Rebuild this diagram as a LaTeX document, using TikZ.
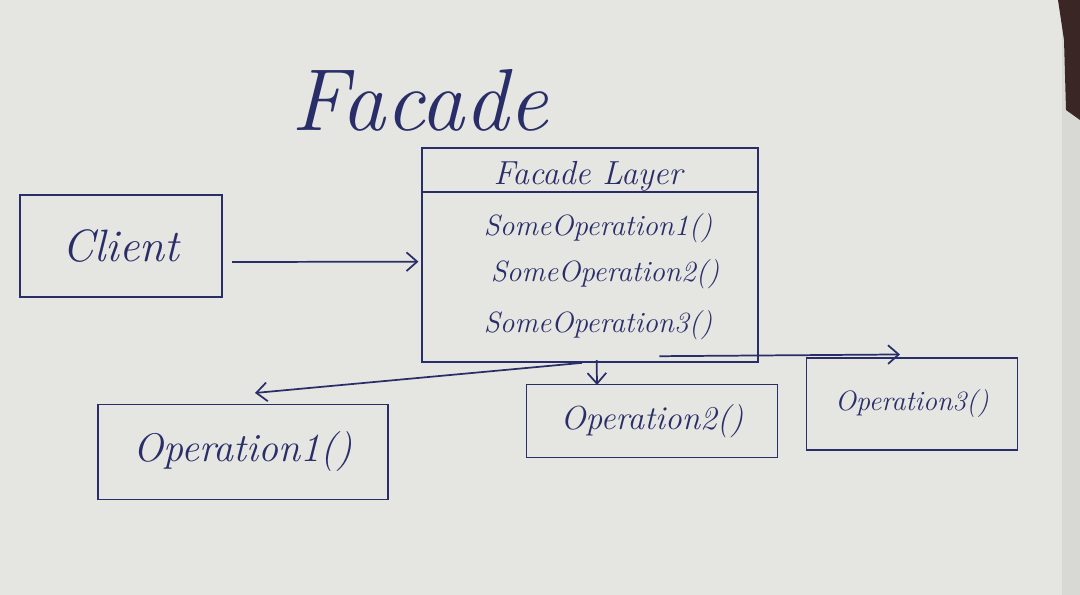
\documentclass[tikz,border=0pt]{standalone}
\usetikzlibrary{arrows.meta,calc}
\definecolor{paper}{RGB}{229,229,226}
\definecolor{paperedge}{RGB}{216,216,213}
\definecolor{cloth}{RGB}{58,38,36}
\definecolor{ink}{RGB}{42,46,104}
\begin{document}
\begin{tikzpicture}[x=0.75pt,y=-0.75pt,
  box/.style={draw=ink,line width=1.3pt,inner sep=0pt,text=ink},
  hand/.style={text=ink,inner sep=0pt},
  link/.style={draw=ink,line width=1.3pt,-{Straight Barb[length=8pt,width=14pt,line width=1.3pt]}}]
% sheet of paper on a dark cloth
\fill[paper] (0,0) rectangle (1080,595);
\fill[paperedge] (1062,0) rectangle (1080,595);
\fill[cloth] (1058,0) -- (1080,0) -- (1080,120) -- (1066,110) -- (1064,40) -- cycle;
\useasboundingbox (0,0) rectangle (1080,595);

% heading
\node[hand,font=\itshape\fontsize{66}{70}\selectfont] (title) at (420,100) {Facade};

% client
\node[box,minimum width=151.5pt,minimum height=76.5pt,
      font=\itshape\fontsize{34}{40}\selectfont] (client) at (121,246) {Client};

% facade layer class box
\node[box,minimum width=252pt,minimum height=160.5pt] (facade) at (590,255) {};
\draw[ink,line width=1.3pt] ($(facade.north west)+(0,45)$) -- ($(facade.north east)+(0,45)$);
\node[hand,font=\itshape\fontsize{25}{30}\selectfont] (hdr) at (588,176) {Facade Layer};
\node[hand,font=\itshape\fontsize{22}{26}\selectfont] (s1) at (598,228) {SomeOperation1()};
\node[hand,font=\itshape\fontsize{22}{26}\selectfont] (s2) at (605,274) {SomeOperation2()};
\node[hand,font=\itshape\fontsize{22}{26}\selectfont] (s3) at (598,325) {SomeOperation3()};

% subsystem operations
\node[box,minimum width=217.5pt,minimum height=71.25pt,
      font=\itshape\fontsize{30}{36}\selectfont] (op1) at (243,452) {Operation1()};
\node[box,minimum width=188.25pt,minimum height=54.75pt,
      font=\itshape\fontsize{25}{30}\selectfont] (op2) at (652,421) {Operation2()};
\node[box,minimum width=158.25pt,minimum height=69pt,
      font=\itshape\fontsize{21}{26}\selectfont] (op3) at (912,404) {Operation3()};

% connectors
\draw[link] ([xshift=7pt,yshift=-12pt]client.east) -- ([xshift=-2pt,yshift=-5pt]facade.west);
\draw[link] ([xshift=-6pt]facade.south) -- ([xshift=9pt,yshift=8pt]op1.north);
\draw[link] ([xshift=5pt,yshift=2pt]facade.south) -- ([xshift=-41.25pt,yshift=-1pt]op2.north);
\draw[link] ([xshift=52pt,yshift=5pt]facade.south) -- ([xshift=-9pt,yshift=2pt]op3.north);
\end{tikzpicture}
\end{document}
